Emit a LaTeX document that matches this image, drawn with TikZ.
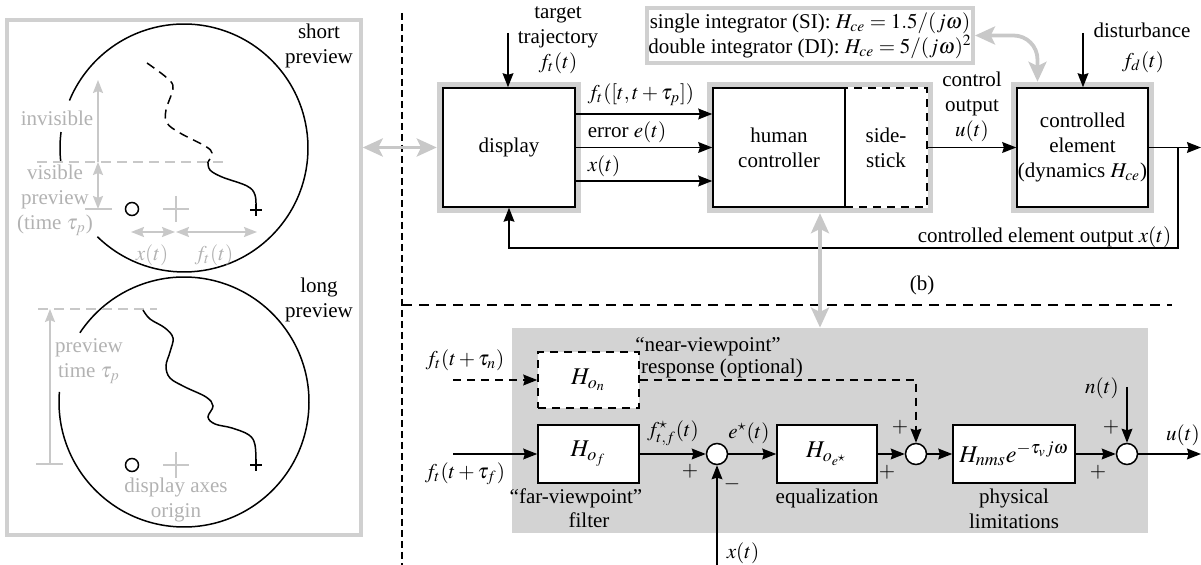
\documentclass[tikz,border=0pt]{standalone}
\usepackage{mathptmx}
\usepackage[no-math]{fontspec}
\setmainfont{Liberation Serif}
\usetikzlibrary{arrows.meta,backgrounds,fit,calc}
\definecolor{gline}{RGB}{208,208,208}
\definecolor{gtext}{RGB}{178,178,178}
\definecolor{garr}{RGB}{200,200,200}
\definecolor{shadec}{RGB}{211,211,211}
\begin{document}
\begin{tikzpicture}[x=0.5pt,y=-0.5pt,
  font=\fontsize{10.5}{12.5}\selectfont,
  line width=0.75pt,
  >={Stealth[length=7pt,width=5.4pt,inset=0.8pt]},
  blk/.style={draw, fill=white, inner sep=0pt, align=center},
  bigm/.style={font=\fontsize{12}{14}\selectfont},
  lbl/.style={inner sep=0pt, align=center},
  glbl/.style={inner sep=0pt, align=center, text=gtext},
  gframe/.style={draw=gline, line width=2.5pt, inner sep=1.5pt},
  garrow/.style={draw=garr, line width=1.9pt, {Stealth[length=10pt,width=9pt,inset=2.2pt]}-{Stealth[length=10pt,width=9pt,inset=2.2pt]}},
  gsmall/.style={draw=garr, line width=1pt},
  gtip/.style={-{Stealth[length=6.5pt,width=5pt,inset=1pt]}},
  gtips/.style={{Stealth[length=6.5pt,width=5pt,inset=1pt]}-{Stealth[length=6.5pt,width=5pt,inset=1pt]}},
  dsh/.style={dash pattern=on 4pt off 3pt},
  sumc/.style={circle, draw, fill=white, minimum size=10.5pt, inner sep=0pt},
  mk/.style={circle, draw, minimum size=6.5pt, inner sep=0pt}
]
\useasboundingbox (0,0) rectangle (1201,565);

% ---------------- left panel ----------------
\node[draw=gline, line width=1.7pt, minimum width=177pt, minimum height=257.5pt] (lp) at (184,277.5) {};

% top circle
\coordinate (c1) at (184,148);
\draw ([shift={(225.7:62pt)}]c1) arc[start angle=225.7, end angle=517.5, radius=62pt];
\draw ([shift={(172.6:62pt)}]c1) arc[start angle=172.6, end angle=186.8, radius=62pt];
% bottom circle
\coordinate (c2) at (184,402);
\draw ([shift={(175.4:62.5pt)}]c2) arc[start angle=175.4, end angle=506.4, radius=62.5pt];

% top circle gray construction
\draw[gsmall, dash pattern=on 5pt off 3pt] (37,162) -- (227,162);
\draw[gsmall, gtip] (98,162) -- (98,80);
\draw[gsmall, gtips] (98,162) -- (98,209);
\draw[gsmall] (85,209) -- (112,209);
\draw[gsmall] (163,209) -- (189,209) (176,196) -- (176,222);
\draw[gsmall, gtips] (131,232) -- (175,232);
\draw[gsmall, gtips] (176,232) -- (257,232);
\node[mk] (o1) at (132,209) {};
\draw (250,210) -- (262,210) (256,204) -- (256,216);
\draw[dash pattern=on 4.5pt off 3pt] plot[smooth, tension=0.6] coordinates {(147,63) (167,78) (173,88) (166,110) (167,123) (180,133) (205,146) (212,153) (208,162)};
\draw plot[smooth, tension=0.6] coordinates {(208,162) (210,170) (222,177) (247,186) (255,195) (256,210)};

\node[glbl] (tinv) at (57,118) {invisible};
\node[glbl] (tvis) at (55,200) {visible\\preview\\(time $\tau_p$)};
\node[glbl] (tx1) at (152,255) {$x(t)$};
\node[glbl] (tf1) at (214,255) {$f_t(t)$};
\node[lbl] (tshort) at (319,45.5) {short\\preview};

% bottom circle gray construction
\draw[gsmall, dash pattern=on 5pt off 3pt] (38,309) -- (157,309);
\draw[gsmall, gtip] (50,464) -- (50,309);
\draw[gsmall] (36,464) -- (63,464);
\draw[gsmall] (163,465) -- (189,465) (176,452) -- (176,478);
\node[mk] (o2) at (132,465) {};
\draw (250,465) -- (262,465) (256,459) -- (256,471);
\draw plot[smooth, tension=0.6] coordinates {(143,310) (150,319) (165,328) (173,338) (170,352) (166,366) (170,378) (185,387) (206,397) (213,406) (208,417) (215,424) (232,428) (249,435) (255,445) (256,465)};

\node[glbl] (tprev) at (89,361) {preview\\time $\tau_p$};
\node[glbl] (taxes) at (176,500) {display axes\\origin};
\node[lbl] (tlong) at (319,299.5) {long\\preview};

% ---------------- dividers ----------------
\draw[dash pattern=on 3.5pt off 2pt] (402,13) -- (402,565);
\draw[dash pattern=on 5pt off 3.5pt] (402,305) -- (1172,305);

% ---------------- top block diagram ----------------
\node[blk, minimum width=66pt, minimum height=59.5pt] (disp) at (509,147.5) {display};
\node[blk, dsh, minimum width=41pt, minimum height=59.5pt] (ss) at (886,147.5) {side-\\stick};
\node[blk, minimum width=66pt, minimum height=59.5pt] (hc) at (779,147.5) {human\\controller};
\node[blk, minimum width=65.5pt, minimum height=59.5pt] (ce) at (1082.5,147.5) {controlled\\element\\(dynamics $H_{ce}$)};

\begin{scope}[on background layer]
  \node[fill=shadec, minimum width=318pt, minimum height=102.5pt, inner sep=0pt] (shade) at (830,430.5) {};
  \node[gframe, fit=(disp)] (dispf) {};
  \node[gframe, fit=(hc)(ss)] (hcf) {};
  \node[gframe, fit=(ce)] (cef) {};
\end{scope}

\node[lbl, draw=gline, line width=2pt, minimum width=163pt, minimum height=27.5pt] (si) at (810,35.5)
  {single integrator (SI): $H_{ce}=1.5/(j\omega)$\\double integrator (DI): $H_{ce}=5/(j\omega)^2$};

\node[lbl] (ttarget) at (558,40) {target\\trajectory\\$f_t(t)$};
\coordinate (tt) at (508,33);
\draw[->] (tt) -- (tt |- disp.north);

\draw[->] ([yshift=16.75pt]disp.east) coordinate (a1) -- (a1 -| hc.west);
\draw[->] (disp.east) -- (hc.west);
\draw[->] ([yshift=-16.75pt]disp.east) coordinate (a3) -- (a3 -| hc.west);
\node[lbl, anchor=west] (lf) at (587,95) {$f_t([t,t+\tau_p])$};
\node[lbl, anchor=west] (le) at (587,132) {error $e(t)$};
\node[lbl, anchor=west] (lx) at (587,166) {$x(t)$};

\draw[->] (ss.east) -- (ce.west);
\node[lbl] (tcu) at (972,107) {control\\output\\$u(t)$};

\node[lbl] (tdist) at (1142,30) {disturbance};
\node[lbl] (tfd) at (1143,62) {$f_d(t)$};
\coordinate (dist) at (1083,33);
\draw[->] (dist) -- (dist |- ce.north);

\coordinate (out1) at (1201,147.5);
\draw[->] (ce.east) -- (out1);
\coordinate (br) at (1178,147.5);
\coordinate (fb) at (1178,248);
\draw[->] (br) -- (fb) -| (disp.south);
\node[lbl, anchor=east] (tceo) at (1172,237) {controlled element output $x(t)$};
\node[lbl] (tb) at (922,285) {(b)};

% gray connectors
\draw[garrow] (lp.east |- disp.west) -- (dispf.west);
\draw[garrow, rounded corners=12pt] (si.east) -| ([xshift=-22.5pt]cef.north);
\draw[garrow] (hcf.south) -- (hcf.south |- shade.north);

% ---------------- bottom block diagram ----------------
\node[blk, dsh, bigm, minimum width=50.5pt, minimum height=28pt] (hon) at (588.5,380) {$H_{o_n}$};
\node[blk, bigm, minimum width=50.5pt, minimum height=29pt] (hof) at (588.5,454) {$H_{o_f}$};
\node[sumc] (s1) at (717,454) {};
\node[blk, bigm, minimum width=50pt, minimum height=29pt] (hoe) at (827,454) {$H_{o_{e^\star}}$};
\node[sumc] (s2) at (916,454) {};
\node[blk, bigm, minimum width=61pt, minimum height=29pt] (hnms) at (1014,454) {$H_{nms}e^{-\tau_v j\omega}$};
\node[sumc] (s3) at (1127,454) {};

\coordinate (inn) at (453,380);
\draw[->, dsh] (inn) -- (hon.west);
\coordinate (inf) at (453,454);
\draw[->] (inf) -- (hof.west);
\draw[->] (hof.east) -- (s1.west);
\coordinate (xin) at (717,565);
\draw[->] (xin) -- (s1.south);
\draw[->] (s1.east) -- (hoe.west);
\draw[->] (hoe.east) -- (s2.west);
\draw[->, dsh] (hon.east) -| (s2.north);
\draw[->] (s2.east) -- (hnms.west);
\draw[->] (hnms.east) -- (s3.west);
\coordinate (nin) at (1127,387);
\draw[->] (nin) -- (s3.north);
\coordinate (uout) at (1201,454);
\draw[->] (s3.east) -- (uout);

\node[lbl] (tfn) at (465,360) {$f_t(t+\tau_n)$};
\node[lbl] (tff) at (465,474) {$f_t(t+\tau_f)$};
\node[lbl] (tnear) at (708,347) {“near-viewpoint”};
\node[lbl] (tresp) at (722,368) {response (optional)};
\node[lbl] (tfar) at (576,498) {“far-viewpoint”};
\node[lbl] (tfilt) at (589,520) {filter};
\node[lbl] (tfs) at (673,433) {$f^\star_{t,f}(t)$};
\node[lbl] (tp1) at (690,471) {$+$};
\node[lbl] (tes) at (749,433) {$e^\star(t)$};
\node[lbl] (tm1) at (732,484) {$-$};
\node[lbl] (tx2) at (743,553) {$x(t)$};
\node[lbl] (teq) at (827,498) {equalization};
\node[lbl] (tp2) at (887,472) {$+$};
\node[lbl] (tp3) at (900,427) {$+$};
\node[lbl] (tphys) at (1014,508.5) {physical\\limitations};
\node[lbl] (tp4) at (1098,472) {$+$};
\node[lbl] (tp5) at (1111,427) {$+$};
\node[lbl] (tn) at (1102,388) {$n(t)$};
\node[lbl] (tu) at (1183,435) {$u(t)$};
\end{tikzpicture}
\end{document}
